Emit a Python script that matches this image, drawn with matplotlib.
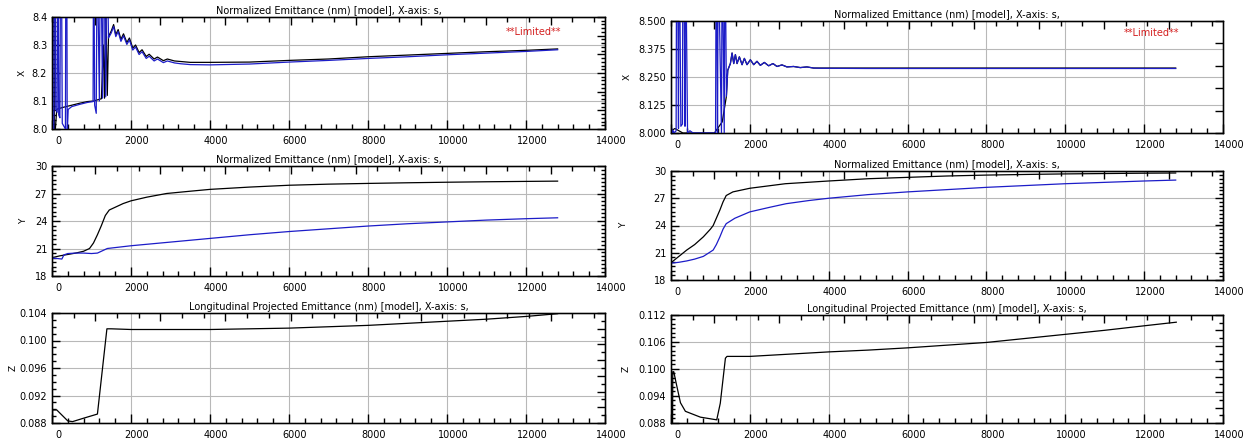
import matplotlib
matplotlib.use('Agg')
import matplotlib.pyplot as plt
from matplotlib.ticker import MultipleLocator, AutoMinorLocator, NullLocator, FixedLocator, FormatStrFormatter
from matplotlib.transforms import ScaledTranslation

# ---------------- data ----------------
TITLE_XY = "Normalized Emittance (nm) [model], X-axis: s,"
TITLE_Z = "Longitudinal Projected Emittance (nm) [model], X-axis: s,"
X_TICKS = [0, 2000, 4000, 6000, 8000, 10000, 12000, 14000]
Y_TICKS_X_LEFT = [8.0, 8.1, 8.2, 8.3, 8.4]
Y_TICKS_X_RIGHT = [8.000, 8.125, 8.250, 8.375, 8.500]
Y_TICKS_Y = [18, 21, 24, 27, 30]
Y_TICKS_Z_LEFT = [0.088, 0.092, 0.096, 0.100, 0.104]
Y_TICKS_Z_RIGHT = [0.088, 0.094, 0.100, 0.106, 0.112]

# Left column, X emittance
lx_s_black = [0, 50, 60, 120, 150, 300, 500, 700, 900, 1050, 1150, 1250, 1300, 1330, 1360, 1400,
              1430, 1500, 1560, 1615, 1675, 1745, 1810, 1895, 1960, 2045, 2115, 2205, 2280, 2385,
              2460, 2585, 2670, 2820, 2920, 3100, 3260, 3500, 4000, 5000, 6000, 7000, 8000, 9000,
              10000, 11000, 12000, 12800]
lx_v_black = [8.45, 8.45, 7.95, 8.07, 8.072, 8.078, 8.085, 8.092, 8.098, 8.100, 8.104, 8.108, 8.30,
              8.11, 8.45, 8.12, 8.33, 8.35, 8.373, 8.337, 8.355, 8.320, 8.340, 8.309, 8.325, 8.289,
              8.300, 8.273, 8.283, 8.259, 8.267, 8.250, 8.257, 8.244, 8.250, 8.243, 8.241, 8.238,
              8.238, 8.239, 8.245, 8.250, 8.258, 8.264, 8.270, 8.276, 8.281, 8.286]
lx_s_blue = [0, 45, 55, 80, 95, 130, 140, 155, 170, 200, 215, 240, 260, 340, 350, 375, 385, 410,
             500, 700, 900, 1040, 1050, 1060, 1080, 1120, 1140, 1150, 1200, 1220, 1240, 1280, 1300,
             1320, 1360, 1380, 1400, 1430, 1500, 1560, 1615, 1675, 1745, 1810, 1895, 1960, 2045,
             2115, 2205, 2280, 2385, 2460, 2585, 2670, 2820, 2920, 3100, 3260, 3500, 4000, 5000,
             6000, 7000, 8000, 9000, 10000, 11000, 12000, 12800]
lx_v_blue = [7.98, 8.00, 8.60, 8.60, 8.07, 8.06, 8.60, 8.60, 8.05, 8.04, 8.60, 8.60, 8.02, 8.00,
             8.60, 8.60, 7.98, 8.07, 8.080, 8.088, 8.095, 8.098, 8.60, 8.60, 8.085, 8.056, 8.60,
             8.60, 8.10, 8.60, 8.60, 8.110, 8.60, 8.60, 8.115, 8.60, 8.60, 8.325, 8.343, 8.366,
             8.330, 8.348, 8.313, 8.333, 8.302, 8.318, 8.282, 8.293, 8.266, 8.276, 8.252, 8.260,
             8.243, 8.250, 8.237, 8.243, 8.236, 8.233, 8.230, 8.229, 8.232, 8.239, 8.245, 8.252,
             8.258, 8.265, 8.271, 8.277, 8.283]

# Right column, X emittance
rx_s_black = [0, 100, 300, 500, 800, 1100, 1300, 1405, 1439, 1506, 1549, 1591, 1633, 1675, 1734,
              1802, 1861, 1928, 2013, 2097, 2181, 2266, 2367, 2477, 2586, 2688, 2814, 2941, 3110,
              3278, 3447, 3616, 3785, 5000, 7000, 9000, 11000, 12800]
rx_v_black = [8.01, 8.02, 8.0, 8.0, 8.0, 8.0, 8.05, 8.164, 8.280, 8.310, 8.357, 8.310, 8.350,
              8.310, 8.340, 8.305, 8.333, 8.305, 8.327, 8.305, 8.320, 8.302, 8.315, 8.300, 8.310,
              8.297, 8.304, 8.295, 8.297, 8.292, 8.295, 8.290, 8.290, 8.290, 8.290, 8.290, 8.290,
              8.290]
rx_s_blue = [0, 20, 40, 60, 80, 130, 140, 170, 190, 200, 220, 250, 290, 300, 330, 355, 365, 380,
             420, 480, 560, 1130, 1143, 1160, 1180, 1194, 1210, 1280, 1295, 1310, 1350, 1363, 1380,
             1405, 1439, 1506, 1549, 1591, 1633, 1675, 1734, 1802, 1861, 1928, 2013, 2097, 2181,
             2266, 2367, 2477, 2586, 2688, 2814, 2941, 3110, 3278, 3447, 3616, 3785, 5000, 7000,
             9000, 11000, 12800]
rx_v_blue = [8.0, 8.02, 8.0, 8.01, 8.0, 8.01, 8.7, 8.7, 8.02, 8.7, 8.7, 8.03, 8.04, 8.7, 8.7, 8.03,
             8.7, 8.7, 8.0, 8.01, 8.0, 8.0, 8.7, 8.7, 8.0, 8.7, 8.7, 8.0, 8.7, 8.7, 8.0, 8.7, 8.7,
             8.164, 8.280, 8.310, 8.357, 8.310, 8.350, 8.310, 8.340, 8.305, 8.333, 8.305, 8.327,
             8.305, 8.320, 8.302, 8.315, 8.300, 8.310, 8.297, 8.304, 8.295, 8.297, 8.292, 8.295,
             8.290, 8.289, 8.288, 8.288, 8.288, 8.288, 8.288]

# Left column, Y emittance
ly_s_black = [0, 200, 400, 600, 800, 950, 1050, 1150, 1250, 1350, 1450, 1600, 1800, 2000, 2400,
              2900, 3500, 4000, 5000, 6000, 7000, 8000, 9000, 10000, 11000, 12000, 12800]
ly_v_black = [20.0, 20.2, 20.35, 20.5, 20.7, 21.0, 21.6, 22.5, 23.5, 24.6, 25.2, 25.5, 25.9, 26.2,
              26.6, 27.0, 27.25, 27.45, 27.7, 27.9, 28.02, 28.1, 28.17, 28.23, 28.28, 28.32, 28.35]
ly_s_blue = [0, 150, 250, 300, 400, 600, 800, 1000, 1150, 1250, 1400, 1600, 2000, 3000, 4000,
             5000, 6000, 7000, 8000, 9000, 10000, 11000, 12000, 12800]
ly_v_blue = [19.95, 19.9, 19.85, 20.3, 20.45, 20.5, 20.5, 20.45, 20.5, 20.7, 21.0, 21.1, 21.3,
             21.7, 22.1, 22.5, 22.85, 23.15, 23.45, 23.7, 23.9, 24.1, 24.25, 24.35]

# Right column, Y emittance
ry_s_black = [0, 200, 400, 600, 820, 1000, 1070, 1150, 1240, 1320, 1400, 1570, 2000, 2900, 4000,
              5000, 6000, 7000, 8000, 9000, 10000, 11000, 12000, 12800]
ry_v_black = [19.9, 20.6, 21.3, 21.9, 22.75, 23.6, 24.0, 24.8, 25.7, 26.6, 27.3, 27.7, 28.1, 28.6,
              28.9, 29.15, 29.3, 29.45, 29.55, 29.62, 29.68, 29.72, 29.76, 29.78]
ry_s_blue = [0, 200, 400, 600, 820, 1000, 1070, 1150, 1240, 1320, 1400, 1620, 2000, 2500, 2920,
             3500, 4000, 5000, 6000, 7000, 8000, 9000, 10000, 11000, 12000, 12800]
ry_v_blue = [19.85, 19.95, 20.1, 20.3, 20.6, 21.1, 21.3, 21.9, 22.75, 23.6, 24.2, 24.8, 25.5, 26.0,
             26.4, 26.75, 27.0, 27.4, 27.7, 27.95, 28.2, 28.4, 28.6, 28.75, 28.9, 29.0]

# Left column, Z emittance
lz_s = [10, 15, 120, 400, 520, 800, 1150, 1390, 1500, 2000, 3000, 4000, 5000, 6000, 7000, 8000,
        9000, 10000, 11000, 12000, 12800]
lz_v = [0.0870, 0.0899, 0.0899, 0.0883, 0.0882, 0.0887, 0.0893, 0.1017, 0.1017, 0.1016, 0.1016,
        0.1016, 0.1017, 0.1018, 0.1020, 0.1022, 0.1025, 0.1028, 0.1031, 0.1035, 0.1039]

# Right column, Z emittance
rz_s = [40, 45, 70, 140, 240, 365, 745, 1160, 1250, 1380, 1420, 2000, 3000, 4000, 5000, 6000,
        7000, 8000, 9000, 10000, 11000, 12000, 12815]
rz_v = [0.0870, 0.0994, 0.0994, 0.0965, 0.0925, 0.0906, 0.0893, 0.0887, 0.0924, 0.1024, 0.1028,
        0.1028, 0.1033, 0.1038, 0.1042, 0.1047, 0.1053, 0.1059, 0.1068, 0.1077, 0.1086, 0.1096,
        0.1104]

# ---------------- figure ----------------
W, H = 1252, 445
plt.rcParams['font.family'] = ['DejaVu Sans']
fig = plt.figure(figsize=(W / 100, H / 100), dpi=100)

BLUE = '#1c1cc8'
GRID = '#b8b8b8'
LW = 0.9
TW = 1.0


def add_axes_px(l, t, r, b):
    return fig.add_axes([l / W, 1 - b / H, (r - l) / W, (b - t) / H])


def style(ax, ylim, yticks, yminor_n, yfmt, title, ylab, ylab_px, right_n, right_major):
    ax.set_xlim(0, 14000)
    ax.set_ylim(*ylim)
    ax.xaxis.set_major_locator(FixedLocator(X_TICKS))
    ax.xaxis.set_minor_locator(MultipleLocator(400))
    ax.yaxis.set_major_locator(FixedLocator(yticks))
    if yminor_n > 1:
        ax.yaxis.set_minor_locator(AutoMinorLocator(yminor_n))
    else:
        ax.yaxis.set_minor_locator(NullLocator())
    ax.yaxis.set_major_formatter(FormatStrFormatter(yfmt))
    ax.xaxis.set_major_formatter(FormatStrFormatter('%d'))
    ax.grid(True, which='major', color=GRID, lw=0.8)
    ax.set_axisbelow('line')
    ax.tick_params(which='both', direction='in', top=False, right=False,
                   labelsize=7, colors='black', width=TW)
    ax.tick_params(axis='x', which='major', length=6.5, pad=5)
    ax.tick_params(axis='x', which='minor', length=3.6)
    ax.tick_params(axis='y', which='major', length=5.5, pad=3.5)
    ax.tick_params(axis='y', which='minor', length=3)
    for sp in ax.spines.values():
        sp.set_linewidth(1.0)
    ax.set_title(title, fontsize=7, pad=2.5)
    # top ticks (secondary, unlabeled axis)
    tx = ax.twiny()
    tx.set_xlim(-2, 23.5)
    tx.xaxis.set_major_locator(MultipleLocator(3))
    tx.xaxis.set_minor_locator(MultipleLocator(1))
    tx.tick_params(axis='x', which='both', direction='in', labeltop=False, top=True, width=TW)
    tx.tick_params(axis='x', which='major', length=6)
    tx.tick_params(axis='x', which='minor', length=3.5)
    # right ticks (secondary, unlabeled axis)
    rx = ax.twinx()
    rx.set_ylim(0, right_n)
    rx.yaxis.set_major_locator(MultipleLocator(right_major))
    rx.yaxis.set_minor_locator(MultipleLocator(1) if right_major > 1 else NullLocator())
    rx.tick_params(axis='y', which='both', direction='in', labelright=False, right=True, width=TW)
    rx.tick_params(axis='y', which='major', length=5.5)
    rx.tick_params(axis='y', which='minor', length=3)
    ax.tick_params(axis='x', which='both', bottom=True, direction='in')
    ax.tick_params(axis='y', which='both', left=True, direction='in')
    # shift x tick labels right, as in the reference
    off = ScaledTranslation(0.06, 0, fig.dpi_scale_trans)
    for lbl in ax.get_xticklabels():
        lbl.set_transform(lbl.get_transform() + off)
    # axis name, rotated
    bbox = ax.get_position()
    fig.text(ylab_px / W, bbox.y0 + bbox.height / 2, ylab, rotation=90,
             ha='center', va='center', fontsize=6.5)
    return ax


# Top-left
ax = add_axes_px(52, 17, 605, 129)
style(ax, (8.0, 8.4), Y_TICKS_X_LEFT, 6, '%.1f', TITLE_XY, 'X', 22, 30, 5)
ax.plot(lx_s_black, lx_v_black, color='black', lw=LW, zorder=3)
ax.plot(lx_s_blue, lx_v_blue, color=BLUE, lw=LW, zorder=3)
ax.text(0.87, 0.866, '**Limited**', color='#d42020', fontsize=7, ha='center', va='center',
        transform=ax.transAxes)

# Top-right
ax = add_axes_px(671, 21, 1223, 133)
style(ax, (8.0, 8.5), Y_TICKS_X_RIGHT, 1, '%.3f', TITLE_XY, 'X', 627, 5, 1)
ax.plot(rx_s_black, rx_v_black, color='black', lw=LW, zorder=3)
ax.plot(rx_s_blue, rx_v_blue, color=BLUE, lw=LW, zorder=3)
ax.text(0.871, 0.893, '**Limited**', color='#d42020', fontsize=7, ha='center', va='center',
        transform=ax.transAxes)

# Middle-left
ax = add_axes_px(52, 166, 605, 276)
style(ax, (18, 30), Y_TICKS_Y, 6, '%d', TITLE_XY, 'Y', 24, 28, 7)
ax.plot(ly_s_black, ly_v_black, color='black', lw=LW, zorder=3)
ax.plot(ly_s_blue, ly_v_blue, color=BLUE, lw=LW, zorder=3)

# Middle-right
ax = add_axes_px(671, 171, 1223, 280)
style(ax, (18, 30), Y_TICKS_Y, 6, '%d', TITLE_XY, 'Y', 624, 28, 7)
ax.plot(ry_s_black, ry_v_black, color='black', lw=LW, zorder=3)
ax.plot(ry_s_blue, ry_v_blue, color=BLUE, lw=LW, zorder=3)

# Bottom-left
ax = add_axes_px(52, 313, 605, 423)
style(ax, (0.088, 0.104), Y_TICKS_Z_LEFT, 4, '%.3f', TITLE_Z, 'Z', 13, 14, 2)
ax.plot(lz_s, lz_v, color='black', lw=LW, zorder=3)

# Bottom-right
ax = add_axes_px(671, 315, 1223, 423)
style(ax, (0.088, 0.112), Y_TICKS_Z_RIGHT, 6, '%.3f', TITLE_Z, 'Z', 626, 14, 2)
ax.plot(rz_s, rz_v, color='black', lw=LW, zorder=3)

fig.savefig('out.png', dpi=100, facecolor='white')
